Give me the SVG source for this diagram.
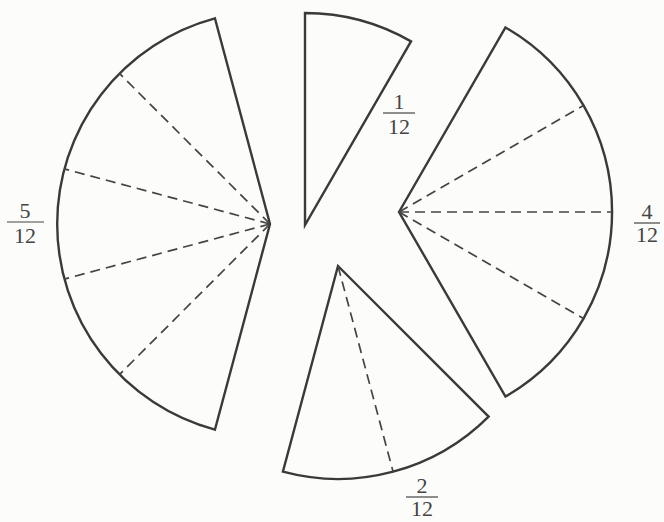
<svg xmlns="http://www.w3.org/2000/svg" width="664" height="522" viewBox="0 0 664 522">
<style>
.sec{fill:none;stroke:#3a3a3a;stroke-width:2.4;stroke-linejoin:miter}
.dash{stroke:#444;stroke-width:1.7;stroke-dasharray:10 6;fill:none}
.lbl{font-family:"Liberation Serif","Times New Roman",serif;font-size:22px;fill:#444;text-anchor:middle}
.bar{stroke:#444;stroke-width:1.2}
</style>
<rect width="664" height="522" fill="#fcfcfa"/>
<g id="sector-5-12">
<path class="sec" d="M270,224 L214.9,18.3 A213,213 0 0 0 214.9,429.7 Z"/>
<g class="dash">
<line x1="270" y1="224" x2="119.4" y2="73.4"/>
<line x1="270" y1="224" x2="64.3" y2="168.9"/>
<line x1="270" y1="224" x2="64.3" y2="279.1"/>
<line x1="270" y1="224" x2="119.4" y2="374.6"/>
</g>
<text class="lbl" x="25" y="218">5</text>
<line class="bar" x1="7" y1="222" x2="44" y2="222"/>
<text class="lbl" x="25" y="243">12</text>
</g>
<g id="sector-1-12">
<path class="sec" d="M305,225 L305,13 A212,212 0 0 1 411,41.4 Z"/>
<text class="lbl" x="399" y="109">1</text>
<line class="bar" x1="383" y1="113" x2="415" y2="113"/>
<text class="lbl" x="399" y="134">12</text>
</g>
<g id="sector-4-12">
<path class="sec" d="M399,212 L505.5,27.5 A213,213 0 0 1 505.5,396.5 Z"/>
<g class="dash">
<line x1="399" y1="212" x2="583.5" y2="105.5"/>
<line x1="399" y1="212" x2="612" y2="212"/>
<line x1="399" y1="212" x2="583.5" y2="318.5"/>
</g>
<text class="lbl" x="647" y="219">4</text>
<line class="bar" x1="634" y1="223" x2="660" y2="223"/>
<text class="lbl" x="647" y="242">12</text>
</g>
<g id="sector-2-12">
<path class="sec" d="M338,266 L488.6,416.6 A213,213 0 0 1 282.9,471.7 Z"/>
<line class="dash" x1="338" y1="266" x2="393.1" y2="471.7"/>
<text class="lbl" x="422" y="493">2</text>
<line class="bar" x1="406" y1="497" x2="438" y2="497"/>
<text class="lbl" x="422" y="516">12</text>
</g>
</svg>
